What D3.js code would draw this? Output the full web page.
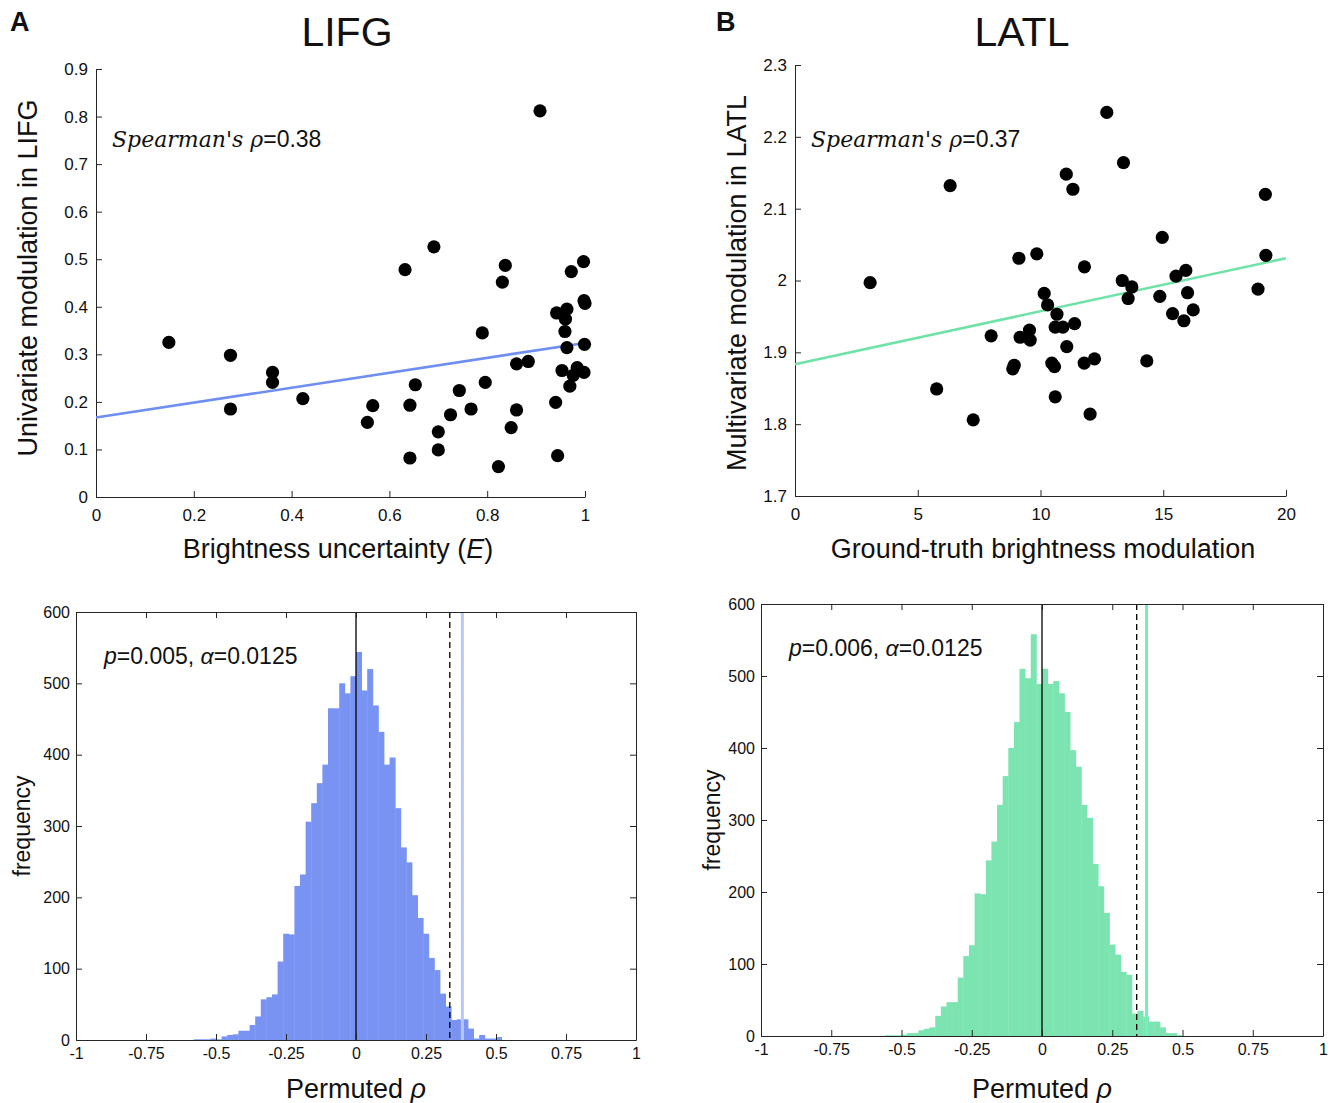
<!DOCTYPE html>
<html>
<head>
<meta charset="utf-8">
<script src="https://cdn.jsdelivr.net/npm/d3@7"></script>
<style>
  html, body { margin: 0; padding: 0; background: #ffffff; }
  svg { display: block; }
  text { font-family: "Liberation Sans", Arial, sans-serif; fill: #111; }
</style>
</head>
<body>
<svg id="fig" width="1335" height="1103"></svg>
<script>
// ---------------- DATA ----------------
// Panel A scatter: LIFG
const lifgX = [0.149,0.275,0.275,0.361,0.361,0.423,0.555,0.566,0.632,0.642,0.642,0.653,0.691,0.700,0.700,0.725,0.743,0.767,0.790,0.796,0.823,0.831,0.837,0.849,0.860,0.860,0.884,0.908,0.940,0.944,0.942,0.963,0.960,0.959,0.963,0.953,0.969,0.972,0.976,0.984,0.997,0.998,1.000,0.999,0.998];
const lifgY = [0.325,0.298,0.185,0.262,0.241,0.207,0.157,0.192,0.478,0.193,0.082,0.236,0.526,0.137,0.099,0.173,0.224,0.185,0.345,0.241,0.064,0.452,0.487,0.146,0.183,0.280,0.285,0.812,0.199,0.087,0.387,0.395,0.374,0.348,0.314,0.266,0.233,0.474,0.256,0.272,0.495,0.413,0.407,0.321,0.262];
const lifgFitX = [0, 1];
const lifgFitY = [0.167, 0.324];

// Panel B scatter: LATL
const latlX = [3.06,6.32,5.77,7.26,7.99,9.12,9.85,8.87,8.93,9.17,9.55,9.58,10.15,10.29,10.67,10.60,10.91,11.39,11.07,10.46,10.57,10.60,11.05,11.32,11.79,11.78,12.20,12.02,12.70,13.38,13.33,13.72,13.57,14.33,14.86,14.96,15.38,15.52,15.92,15.99,15.84,16.22,18.86,19.16,19.18];
const latlY = [1.997,2.132,1.849,1.806,1.923,2.031,2.037,1.877,1.882,1.921,1.931,1.917,1.982,1.966,1.953,1.935,1.935,1.940,1.908,1.885,1.880,1.838,2.148,2.127,2.019,1.885,1.891,1.814,2.234,2.164,2.000,1.991,1.975,1.888,1.978,2.060,1.954,2.006,2.014,1.983,1.944,1.959,1.988,2.120,2.035];
const latlFitX = [0, 20];
const latlFitY = [1.8835, 2.031];

// Permutation histograms (bin width 0.02)
const binWidth = 0.02;
const histAStart = -0.58;
const histACounts = [1,1,1,2,1,
  5,7,8,13,13,21,33,57,60,64,110,149,148,216,232,306,332,360,386,465,465,500,486,510,
  544,490,520,469,432,386,396,325,270,249,203,171,149,115,98,65,47,28,29,29,16,2,7,2,2,4];
const histBStart = -0.56;
const histBCounts = [1,1,1,2,
  4,4,8,10,12,28,41,47,47,81,111,126,198,197,244,270,321,361,400,436,510,497,558,489,
  510,489,493,476,450,397,374,321,303,239,208,171,127,113,89,85,31,35,27,20,20,12,4,4,1];
const criticalA = 0.335, observedA = 0.38;
const criticalB = 0.337, observedB = 0.372;

// Tick labels
const lifgYTicks = [0,0.1,0.2,0.3,0.4,0.5,0.6,0.7,0.8,0.9];
const lifgXTicks = [0,0.2,0.4,0.6,0.8,1];
const latlYTicks = [1.7,1.8,1.9,2,2.1,2.2,2.3];
const latlXTicks = [0,5,10,15,20];
const histXTicks = [-1,-0.75,-0.5,-0.25,0,0.25,0.5,0.75,1];
const histYTicks = [0,100,200,300,400,500,600];

// ---------------- STYLE ----------------
const blue = "#7893f2";
const blueLine = "#6f8ef2";
const blueLight = "#b8c8fb";
const green = "#7be4b1";
const greenLine = "#6fe2a7";
const greenBright = "#74f0bb";
const axisColor = "#262626";

const svg = d3.select("#fig");
const fmt = d => String(d);

function styleAxis(g, fontSize) {
  g.selectAll(".domain").attr("stroke", axisColor).attr("stroke-width", 1);
  g.selectAll(".tick line").attr("stroke", axisColor).attr("stroke-width", 1);
  g.selectAll(".tick text").attr("fill", "#111").style("font-size", fontSize + "px")
    .style("font-family", '"Liberation Sans", Arial, sans-serif');
}

function scatter(o) {
  const x = d3.scaleLinear().domain(o.xDomain).range([o.left, o.right]);
  const y = d3.scaleLinear().domain(o.yDomain).range([o.bottom, o.top]);
  const g = svg.append("g");

  // axes
  const ax = g.append("g").attr("transform", `translate(0,${o.bottom})`)
    .call(d3.axisBottom(x).tickValues(o.xTicks).tickFormat(fmt).tickSizeInner(-6).tickSizeOuter(0).tickPadding(12));
  styleAxis(ax, 17);
  const ay = g.append("g").attr("transform", `translate(${o.left},0)`)
    .call(d3.axisLeft(y).tickValues(o.yTicks).tickFormat(fmt).tickSizeInner(-6).tickSizeOuter(0).tickPadding(8));
  styleAxis(ay, 17);

  // fit line
  const line = d3.line().x(d => x(d[0])).y(d => y(d[1]));
  g.append("path").datum(o.fitX.map((v, i) => [v, o.fitY[i]]))
    .attr("d", line).attr("fill", "none").attr("stroke", o.lineColor).attr("stroke-width", 2.6);

  // points
  g.selectAll("circle.pt").data(o.xs.map((v, i) => [v, o.ys[i]])).join("circle")
    .attr("class", "pt").attr("cx", d => x(d[0])).attr("cy", d => y(d[1])).attr("r", 6.6).attr("fill", "#000");

  // titles & labels
  svg.append("text").attr("x", o.letterX).attr("y", 31).style("font-size", "27px").style("font-weight", "bold").text(o.letter);
  svg.append("text").attr("x", o.titleX).attr("y", 46).attr("text-anchor", "middle").style("font-size", "41px").text(o.title);
  svg.append("text").attr("transform", `translate(${o.ylabelX},${o.ylabelY}) rotate(-90)`)
    .attr("text-anchor", "middle").style("font-size", "27px").text(o.ylabel);
  const xl = svg.append("text").attr("x", o.xlabelX).attr("y", 558).attr("text-anchor", "middle").style("font-size", "27px");
  xl.append("tspan").text(o.xlabel);
  if (o.xlabelItalic) {
    xl.append("tspan").text("(");
    xl.append("tspan").style("font-style", "italic").text(o.xlabelItalic);
    xl.append("tspan").text(")");
  }
  const st = svg.append("text").attr("x", o.left + 16).attr("y", 147).style("font-size", "23px");
  st.append("tspan").style("font-family", '"DejaVu Serif", serif').style("font-style", "italic").style("font-size", "22px").text("Spearman's ρ");
  st.append("tspan").text("=" + o.rho);
}

function histogram(o) {
  const x = d3.scaleLinear().domain([-1, 1]).range([o.left, o.right]);
  const y = d3.scaleLinear().domain([0, 600]).range([o.bottom, o.top]);
  const g = svg.append("g");
  const bins = o.counts.map((c, i) => ({ x0: o.start + i * binWidth, c }));

  g.selectAll("rect.bar").data(bins).join("rect").attr("class", "bar")
    .attr("x", d => x(d.x0)).attr("width", d => x(d.x0 + binWidth) - x(d.x0) + 0.4)
    .attr("y", d => y(d.c)).attr("height", d => y(0) - y(d.c)).attr("fill", o.color);

  // reference lines
  g.append("line").attr("x1", x(0)).attr("x2", x(0)).attr("y1", o.top).attr("y2", o.bottom)
    .attr("stroke", "#000").attr("stroke-width", 1.3);
  g.append("line").attr("x1", x(o.critical)).attr("x2", x(o.critical)).attr("y1", o.top).attr("y2", o.bottom)
    .attr("stroke", "#000").attr("stroke-width", 1.3).attr("stroke-dasharray", "6,4");
  g.append("line").attr("x1", x(o.observed)).attr("x2", x(o.observed)).attr("y1", o.top).attr("y2", o.bottom)
    .attr("stroke", o.obsColor).attr("stroke-width", 3);

  // axes (box with inward ticks)
  const ab = g.append("g").attr("transform", `translate(0,${o.bottom})`)
    .call(d3.axisBottom(x).tickValues(histXTicks).tickFormat(fmt).tickSizeInner(-6).tickSizeOuter(0).tickPadding(8));
  styleAxis(ab, 16);
  const at = g.append("g").attr("transform", `translate(0,${o.top})`)
    .call(d3.axisTop(x).tickValues(histXTicks).tickFormat("").tickSizeInner(-6).tickSizeOuter(0));
  styleAxis(at, 16);
  const al = g.append("g").attr("transform", `translate(${o.left},0)`)
    .call(d3.axisLeft(y).tickValues(histYTicks).tickFormat(fmt).tickSizeInner(-6).tickSizeOuter(0).tickPadding(6));
  styleAxis(al, 16);
  const ar = g.append("g").attr("transform", `translate(${o.right},0)`)
    .call(d3.axisRight(y).tickValues(histYTicks).tickFormat("").tickSizeInner(-6).tickSizeOuter(0));
  styleAxis(ar, 16);

  // labels
  svg.append("text").attr("transform", `translate(${o.ylabelX},${(o.top + o.bottom) / 2}) rotate(-90)`)
    .attr("text-anchor", "middle").style("font-size", "23px").text("frequency");
  const xl = svg.append("text").attr("x", x(0)).attr("y", 1098).attr("text-anchor", "middle").style("font-size", "27px");
  xl.append("tspan").text("Permuted ");
  xl.append("tspan").style("font-style", "italic").text("ρ");
  const an = svg.append("text").attr("x", o.left + 28).attr("y", o.top + 52).style("font-size", "23px");
  an.append("tspan").style("font-style", "italic").text("p");
  an.append("tspan").text("=" + o.p + ", ");
  an.append("tspan").style("font-style", "italic").text("α");
  an.append("tspan").text("=0.0125");
}

scatter({
  left: 96, right: 585, top: 69, bottom: 497,
  xDomain: [0, 1], yDomain: [0, 0.9], xTicks: lifgXTicks, yTicks: lifgYTicks,
  xs: lifgX, ys: lifgY, fitX: lifgFitX, fitY: lifgFitY, lineColor: blueLine,
  letter: "A", letterX: 10, title: "LIFG", titleX: 347,
  ylabel: "Univariate modulation in LIFG", ylabelX: 37, ylabelY: 278,
  xlabel: "Brightness uncertainty ", xlabelItalic: "E", xlabelX: 338, rho: "0.38"
});
scatter({
  left: 795, right: 1286, top: 65, bottom: 496,
  xDomain: [0, 20], yDomain: [1.7, 2.3], xTicks: latlXTicks, yTicks: latlYTicks,
  xs: latlX, ys: latlY, fitX: latlFitX, fitY: latlFitY, lineColor: greenLine,
  letter: "B", letterX: 716, title: "LATL", titleX: 1022,
  ylabel: "Multivariate modulation in LATL", ylabelX: 746, ylabelY: 283,
  xlabel: "Ground-truth brightness modulation", xlabelItalic: null, xlabelX: 1043, rho: "0.37"
});

histogram({
  left: 76, right: 636, top: 612, bottom: 1040,
  start: histAStart, counts: histACounts, color: blue,
  critical: criticalA, observed: observedA, obsColor: blueLight,
  ylabelX: 30, p: "0.005"
});
histogram({
  left: 761, right: 1323, top: 604, bottom: 1036,
  start: histBStart, counts: histBCounts, color: green,
  critical: criticalB, observed: observedB, obsColor: greenBright,
  ylabelX: 720, p: "0.006"
});
</script>
</body>
</html>
